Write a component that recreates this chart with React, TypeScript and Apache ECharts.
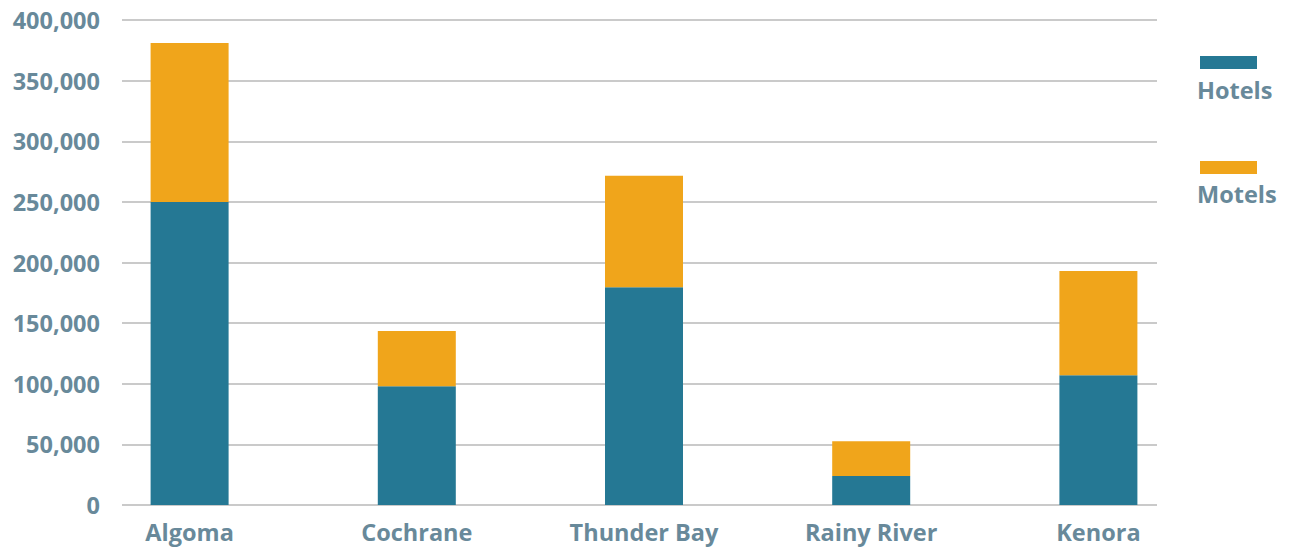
import React, { useEffect, useRef } from "react";
import * as echarts from "echarts";

// Accommodation counts by district
const districts = ["Algoma", "Cochrane", "Thunder Bay", "Rainy River", "Kenora"];
const hotels = [250000, 98000, 179500, 24000, 107000];
const motels = [131000, 45500, 92000, 28500, 86000];
const seriesNames = ["Hotels", "Motels"];
const yTicks = [0, 50000, 100000, 150000, 200000, 250000, 300000, 350000, 400000];

const TEAL = "#257894";
const ORANGE = "#f0a51b";
const TEXT = "#68899a";
const FONT = "'Open Sans', 'Noto Sans', sans-serif";
const FONT_SIZE = 23.5;

const W = 1289;
const H = 548;

export default function App() {
  const ref = useRef<HTMLDivElement>(null);

  useEffect(() => {
    if (!ref.current) return;
    const chart = echarts.init(ref.current, undefined, { renderer: "svg" });
    const yMax = yTicks[yTicks.length - 1];
    const yStep = yTicks[1] - yTicks[0];

    chart.setOption({
      animation: false,
      backgroundColor: "#ffffff",
      grid: [
        // gridlines and value labels
        { left: 122, right: W - 1157, top: 20, bottom: H - 505 },
        // stacked bars with their category labels
        { left: 76, right: W - 1212, top: 20, bottom: H - 505 },
      ],
      xAxis: [
        { type: "value", gridIndex: 0, min: 0, max: 1, show: false },
        {
          type: "category",
          gridIndex: 1,
          data: districts,
          axisLine: { show: false },
          axisTick: { show: false },
          axisLabel: {
            color: TEXT,
            fontFamily: FONT,
            fontWeight: "bold",
            fontSize: FONT_SIZE,
            margin: 15,
          },
        },
      ],
      yAxis: [
        {
          type: "value",
          gridIndex: 0,
          min: 0,
          max: yMax,
          interval: yStep,
          axisLine: { show: false },
          axisTick: { show: false },
          axisLabel: {
            color: TEXT,
            fontFamily: FONT,
            fontWeight: "bold",
            fontSize: FONT_SIZE,
            margin: 22,
            formatter: (v: number) => v.toLocaleString("en-US"),
          },
          splitLine: { lineStyle: { color: "#cacaca", width: 2 } },
        },
        {
          type: "value",
          gridIndex: 1,
          min: 0,
          max: yMax,
          interval: yStep,
          show: false,
          splitLine: { show: false },
        },
      ],
      series: [
        {
          name: seriesNames[0],
          type: "bar",
          stack: "total",
          xAxisIndex: 1,
          yAxisIndex: 1,
          data: hotels,
          barWidth: 78,
          itemStyle: { color: TEAL },
        },
        {
          name: seriesNames[1],
          type: "bar",
          stack: "total",
          xAxisIndex: 1,
          yAxisIndex: 1,
          data: motels,
          barWidth: 78,
          itemStyle: { color: ORANGE },
        },
      ],
      graphic: [
        { type: "rect", shape: { x: 1200, y: 56, width: 57, height: 13 }, style: { fill: TEAL } },
        {
          type: "text",
          x: 1197,
          y: 90,
          style: {
            text: seriesNames[0],
            fill: TEXT,
            font: `bold ${FONT_SIZE}px ${FONT}`,
            textAlign: "left",
            textVerticalAlign: "middle",
          },
        },
        { type: "rect", shape: { x: 1200, y: 161, width: 57, height: 13 }, style: { fill: ORANGE } },
        {
          type: "text",
          x: 1197,
          y: 194,
          style: {
            text: seriesNames[1],
            fill: TEXT,
            font: `bold ${FONT_SIZE}px ${FONT}`,
            textAlign: "left",
            textVerticalAlign: "middle",
          },
        },
      ],
    });

    return () => chart.dispose();
  }, []);

  return (
    <div
      ref={ref}
      style={{ position: "fixed", left: 0, top: 0, width: W, height: H, background: "#fff" }}
    />
  );
}
